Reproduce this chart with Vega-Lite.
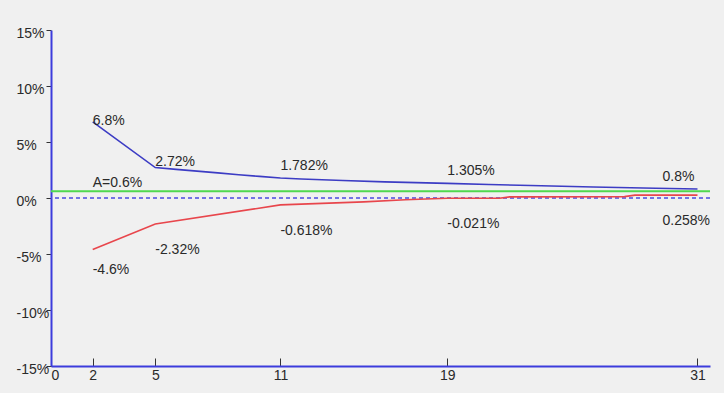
{
  "$schema": "https://vega.github.io/schema/vega-lite/v6.json",
  "width": 659,
  "height": 336,
  "autosize": {"type": "none"},
  "padding": {"left": 51, "top": 30, "right": 14, "bottom": 27},
  "background": "#f0f0f0",
  "config": {
    "view": {"stroke": null},
    "text": {"font": "Liberation Sans", "fontSize": 14, "color": "#2a2a2a"},
    "axis": {"labelFont": "Liberation Sans", "labelFontSize": 14, "labelColor": "#2a2a2a", "grid": false, "title": null, "domainColor": "#3c3cdc", "domainWidth": 2, "tickColor": "#333333", "tickWidth": 1}
  },
  "datasets": {
    "upper": [
      {"n": 2, "v": 6.8}, {"n": 5, "v": 2.72}, {"n": 6, "v": 2.56}, {"n": 7, "v": 2.4},
      {"n": 8, "v": 2.24}, {"n": 9, "v": 2.08}, {"n": 10, "v": 1.93}, {"n": 11, "v": 1.782},
      {"n": 12, "v": 1.7}, {"n": 14, "v": 1.56}, {"n": 16, "v": 1.44}, {"n": 19, "v": 1.305},
      {"n": 21, "v": 1.21}, {"n": 23, "v": 1.11}, {"n": 26, "v": 0.98}, {"n": 29, "v": 0.87},
      {"n": 31, "v": 0.8}
    ],
    "lower": [
      {"n": 2, "v": -4.6}, {"n": 5, "v": -2.32}, {"n": 11, "v": -0.618}, {"n": 12, "v": -0.55},
      {"n": 15, "v": -0.35}, {"n": 17, "v": -0.15}, {"n": 19, "v": -0.021}, {"n": 21.5, "v": -0.02},
      {"n": 22, "v": 0.1}, {"n": 27.5, "v": 0.12}, {"n": 28, "v": 0.258}, {"n": 31, "v": 0.258}
    ],
    "labels": [
      {"n": 2, "v": 6.8, "label": "6.8%", "grp": "u2"},
      {"n": 5, "v": 2.72, "label": "2.72%", "grp": "u5"},
      {"n": 11, "v": 1.782, "label": "1.782%", "grp": "u"},
      {"n": 19, "v": 1.305, "label": "1.305%", "grp": "u"},
      {"n": 31, "v": 0.8, "label": "0.8%", "grp": "uend"},
      {"n": 2, "v": -4.6, "label": "-4.6%", "grp": "l2"},
      {"n": 5, "v": -2.32, "label": "-2.32%", "grp": "l"},
      {"n": 11, "v": -0.618, "label": "-0.618%", "grp": "l"},
      {"n": 19, "v": -0.021, "label": "-0.021%", "grp": "l"},
      {"n": 31, "v": 0.258, "label": "0.258%", "grp": "lend"},
      {"n": 2, "v": 0.6, "label": "A=0.6%", "grp": "avg"}
    ],
    "refs": [{"avg": 0.6, "zero": 0}]
  },
  "encoding": {
    "x": {"field": "n", "type": "quantitative", "scale": {"domain": [0, 31.6], "nice": false, "zero": false},
      "axis": {"values": [0, 2, 5, 11, 19, 31], "tickSize": -8, "labelPadding": 10, "labelFlush": false, "labelOverlap": false,
        "labelAlign": {"condition": {"test": "datum.value == 0", "value": "left"}, "value": "center"}}},
    "y": {"field": "v", "type": "quantitative", "scale": {"domain": [-15, 15], "nice": false},
      "axis": {"values": [-15, -10, -5, 0, 5, 10, 15], "labelExpr": "datum.value + '%'", "labelAlign": "left", "tickSize": 5, "labelPadding": 30, "labelOffset": 3, "labelFlush": false, "labelOverlap": false}}
  },
  "layer": [
    {"data": {"name": "refs"}, "mark": {"type": "rule", "color": "#4a4ae0", "strokeWidth": 1.5, "strokeDash": [4, 3]},
      "encoding": {"y": {"field": "zero", "type": "quantitative"}, "x": null}},
    {"data": {"name": "refs"}, "mark": {"type": "rule", "color": "#4fd84f", "strokeWidth": 2},
      "encoding": {"y": {"field": "avg", "type": "quantitative"}, "x": null}},
    {"data": {"name": "upper"}, "mark": {"type": "line", "color": "#3c3cc4", "strokeWidth": 1.6}},
    {"data": {"name": "lower"}, "mark": {"type": "line", "color": "#e8464c", "strokeWidth": 1.6}},
    {"data": {"name": "labels"}, "transform": [{"filter": "datum.grp == 'u2'"}],
      "mark": {"type": "text", "align": "left", "baseline": "middle", "dy": -1},
      "encoding": {"text": {"field": "label"}}},
    {"data": {"name": "labels"}, "transform": [{"filter": "datum.grp == 'u5'"}],
      "mark": {"type": "text", "align": "left", "baseline": "middle", "dy": -6},
      "encoding": {"text": {"field": "label"}}},
    {"data": {"name": "labels"}, "transform": [{"filter": "datum.grp == 'u'"}],
      "mark": {"type": "text", "align": "left", "baseline": "middle", "dy": -12},
      "encoding": {"text": {"field": "label"}}},
    {"data": {"name": "labels"}, "transform": [{"filter": "datum.grp == 'uend'"}],
      "mark": {"type": "text", "align": "left", "baseline": "middle", "dx": -35, "dy": -12},
      "encoding": {"text": {"field": "label"}}},
    {"data": {"name": "labels"}, "transform": [{"filter": "datum.grp == 'avg'"}],
      "mark": {"type": "text", "align": "left", "baseline": "middle", "dy": -8},
      "encoding": {"text": {"field": "label"}}},
    {"data": {"name": "labels"}, "transform": [{"filter": "datum.grp == 'l2'"}],
      "mark": {"type": "text", "align": "left", "baseline": "middle", "dy": 20},
      "encoding": {"text": {"field": "label"}}},
    {"data": {"name": "labels"}, "transform": [{"filter": "datum.grp == 'l'"}],
      "mark": {"type": "text", "align": "left", "baseline": "middle", "dy": 26},
      "encoding": {"text": {"field": "label"}}},
    {"data": {"name": "labels"}, "transform": [{"filter": "datum.grp == 'lend'"}],
      "mark": {"type": "text", "align": "left", "baseline": "middle", "dx": -35, "dy": 26},
      "encoding": {"text": {"field": "label"}}}
  ]
}
